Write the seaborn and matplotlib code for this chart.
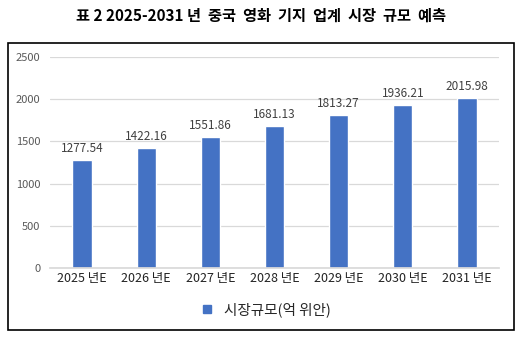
import matplotlib
matplotlib.use("Agg")
import matplotlib.pyplot as plt
import seaborn as sns
import pandas as pd
from matplotlib.patches import Rectangle
from matplotlib.lines import Line2D

categories = ["2025 년E", "2026 년E", "2027 년E", "2028 년E", "2029 년E", "2030 년E", "2031 년E"]
values = [1277.54, 1422.16, 1551.86, 1681.13, 1813.27, 1936.21, 2015.98]
yticks = [0, 500, 1000, 1500, 2000, 2500]
title = "표 2 2025-2031 년  중국  영화  기지  업계  시장  규모  예측"
legend_label = "시장규모(억 위안)"

sns.set_theme(style="white")
plt.rcParams['font.family'] = ['Noto Sans CJK KR', 'DejaVu Sans']

bar_color = "#4472C4"
df = pd.DataFrame({"cat": categories, "val": values})

fig = plt.figure(figsize=(5.23, 3.37), dpi=100)
ax = fig.add_axes([50/523, 1-268/337, 449/523, 211/337])

sns.barplot(data=df, x="cat", y="val", color=bar_color, width=0.3, ax=ax, saturation=1)

ax.set_ylim(0, 2500)
ax.set_yticks(yticks)
ax.set_yticklabels([str(t) for t in yticks], color="#595959", fontsize=8)
ax.tick_params(axis="y", length=0, pad=7)
ax.tick_params(axis="x", length=0, pad=3)
ax.set_xticks(range(len(categories)))
ax.set_xticklabels(categories, fontsize=9, color="#222222")
ax.set_xlabel("")
ax.set_ylabel("")
ax.yaxis.grid(True, color="#D9D9D9", linewidth=0.9)
ax.set_axisbelow(True)
for s in ["top", "right", "left"]:
    ax.spines[s].set_visible(False)
ax.spines["bottom"].set_color("#D9D9D9")

for i, v in enumerate(values):
    ax.text(i, v + 60, f"{v:.2f}", ha="center", va="bottom", fontsize=8.5, color="#404040")

fig.text(0.5, 1-16/337, title, ha="center", va="center", fontsize=11, fontweight="bold", color="black")

border = Rectangle((8/523, 1-330/337), 506/523, 287/337, transform=fig.transFigure,
                   fill=False, edgecolor="black", linewidth=1.2)
fig.patches.append(border)

handle = Line2D([], [], marker="s", linestyle="", color=bar_color, markersize=6)
fig.legend([handle], [legend_label], loc="center", bbox_to_anchor=(0.5, 1-310/337),
           frameon=False, fontsize=10.5, handletextpad=0.2)

fig.savefig("out.png", dpi=100)
